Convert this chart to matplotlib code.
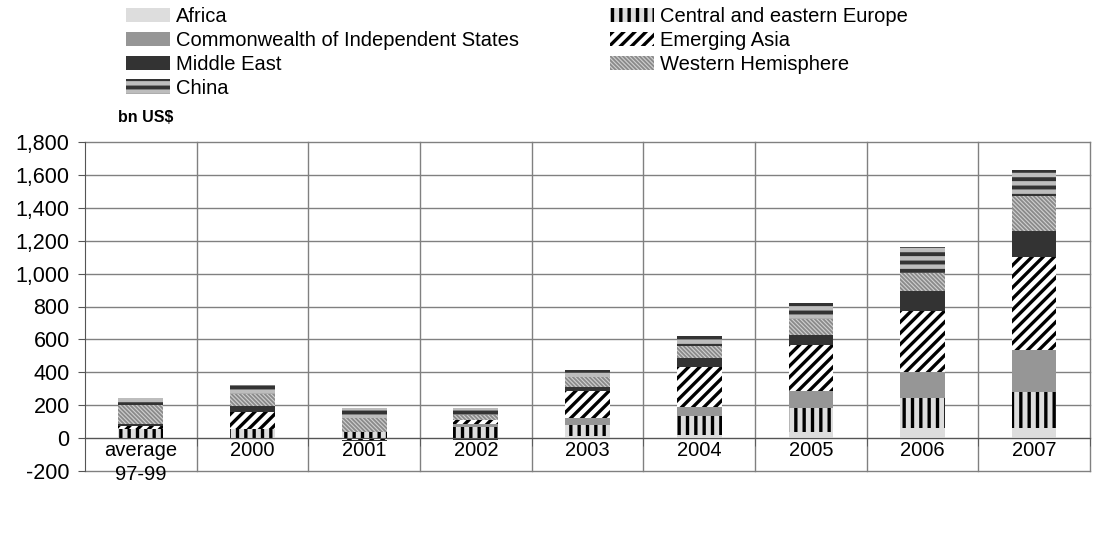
import numpy as np
import matplotlib
matplotlib.use("Agg")
import matplotlib.pyplot as plt
from matplotlib.patches import Patch
from matplotlib.ticker import FuncFormatter, FixedLocator

plt.rcParams['font.family'] = ['Liberation Sans', 'DejaVu Sans']
plt.rcParams['hatch.linewidth'] = 2.0

categories = ["average\n97-99", "2000", "2001", "2002", "2003", "2004", "2005", "2006", "2007"]
africa = [3, 3, 0, 0, 10, 20, 40, 61, 64]
cee = [52, 50, 40, 67, 71, 116, 142, 182, 219]
cis = [0, 3, 0, 20, 41, 52, 107, 156, 254]
emerging_asia = [20, 103, -14, 24, 162, 247, 274, 375, 561]
middle_east = [10, 34, -5, -12, 24, 51, 65, 121, 158]
western_hem = [117, 77, 81, 30, 63, 71, 95, 108, 213]
china = [41, 51, 61, 40, 44, 65, 101, 158, 162]

series = [
    ("Africa", africa),
    ("Central and eastern Europe", cee),
    ("Commonwealth of Independent States", cis),
    ("Emerging Asia", emerging_asia),
    ("Middle East", middle_east),
    ("Western Hemisphere", western_hem),
    ("China", china),
]

styles = {
    "Africa": dict(face="#DDDDDD", hatch=None, hc="#DDDDDD", hlw=1.0),
    "Central and eastern Europe": dict(face="#DDDDDD", hatch="||", hc="black", hlw=2.4),
    "Commonwealth of Independent States": dict(face="#969696", hatch=None, hc="#969696", hlw=1.0),
    "Emerging Asia": dict(face="white", hatch="///", hc="black", hlw=2.4),
    "Middle East": dict(face="#333333", hatch=None, hc="#333333", hlw=1.0),
    "Western Hemisphere": dict(face="#D0D0D0", hatch="\\" * 8, hc="#8A8A8A", hlw=1.3),
    "China": dict(face="#BDBDBD", hatch="--", hc="#333333", hlw=2.8),
}

W, H = 1094, 545
fig = plt.figure(figsize=(W / 100, H / 100), dpi=100)
ax = fig.add_axes([85 / W, 1 - 471 / H, (1090 - 85) / W, (471 - 142) / H])

x = np.arange(len(categories))
pos_bottom = np.zeros(len(categories))
neg_bottom = np.zeros(len(categories))


def style_patch(p, st):
    if st["hatch"]:
        p.set_hatch(st["hatch"])
    if hasattr(p, "set_hatch_linewidth"):
        p.set_hatch_linewidth(st["hlw"])


for name, vals in series:
    v = np.array(vals, dtype=float)
    bottoms = np.where(v >= 0, pos_bottom, neg_bottom)
    st = styles[name]
    bars = ax.bar(x, v, width=0.40, bottom=bottoms, color=st["face"],
                  edgecolor=st["hc"], linewidth=0, zorder=3)
    for p in bars:
        style_patch(p, st)
    pos_bottom = pos_bottom + np.where(v >= 0, v, 0)
    neg_bottom = neg_bottom + np.where(v < 0, v, 0)

ax.set_xlim(-0.5, len(categories) - 0.5)
ax.set_ylim(-200, 1800)
yt = np.arange(-200, 1801, 200)
ax.yaxis.set_major_locator(FixedLocator(yt))
ax.yaxis.set_major_formatter(FuncFormatter(lambda v, p: f"{int(v):,}"))
for yv in yt:
    ax.axhline(yv, color="#808080", linewidth=1.0, zorder=0, clip_on=False)
for b in np.arange(0.5, len(categories) - 0.5 + 0.01, 1.0):
    ax.axvline(b, color="#808080", linewidth=1.0, zorder=0, clip_on=False)

for s in ["top", "right"]:
    ax.spines[s].set_visible(False)
ax.spines["left"].set_color("#555555")
ax.spines["bottom"].set_position(("data", 0))
ax.spines["bottom"].set_color("#555555")
ax.spines["bottom"].set_zorder(4)

ax.set_xticks(x)
ax.set_xticklabels(categories, linespacing=1.35)
ax.set_xticks(np.arange(-0.5, len(categories) - 0.4, 1.0), minor=True)
ax.tick_params(axis="x", which="major", length=0, pad=2, labelsize=14.5)
ax.tick_params(axis="x", which="minor", length=6, direction="out", color="#555555")
ax.tick_params(axis="y", length=5, direction="out", color="#555555", pad=6, labelsize=15.5)

fig.text(118 / W, 1 - 117 / H, "bn US$", fontsize=11.5, fontweight="bold", va="center", ha="left")

handles = {}
for name, _ in series:
    st = styles[name]
    p = Patch(facecolor=st["face"], edgecolor=st["hc"], linewidth=0, label=name)
    style_patch(p, st)
    handles[name] = p

col1 = ["Africa", "Commonwealth of Independent States", "Middle East", "China"]
col2 = ["Central and eastern Europe", "Emerging Asia", "Western Hemisphere"]
common = dict(frameon=False, fontsize=14.5, handlelength=2.2, handleheight=0.7,
              handletextpad=0.3, labelspacing=0.24, borderpad=0, borderaxespad=0)
leg1 = fig.legend([handles[n] for n in col1], col1, loc="upper left",
                  bbox_to_anchor=(126 / W, 1 - 7 / H), **common)
leg2 = fig.legend([handles[n] for n in col2], col2, loc="upper left",
                  bbox_to_anchor=(610 / W, 1 - 7 / H), **common)
for leg in (leg1, leg2):
    for h, n in zip(leg.legend_handles, [t.get_text() for t in leg.get_texts()]):
        style_patch(h, styles[n])

fig.savefig("out.png", dpi=100)
